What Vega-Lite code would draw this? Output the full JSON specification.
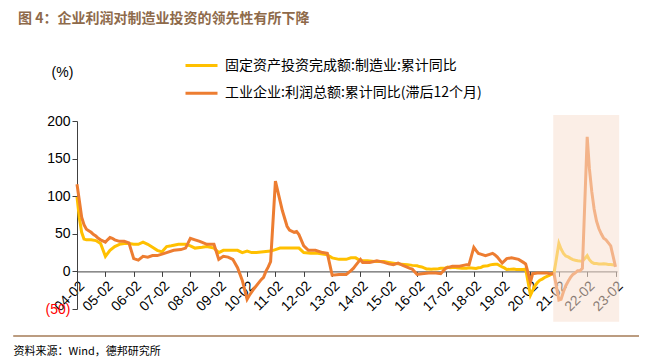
{
"$schema": "https://vega.github.io/schema/vega-lite/v6.json",
"width": 540, "height": 188,
"autosize": {"type": "none"},
"padding": {"left": 77, "top": 121, "right": 33, "bottom": 53},
"background": "white",
"config": {"view": {"stroke": null}, "font": "Liberation Sans", "axis": {"labelOverlap": false, "labelBound": false, "labelFlush": false}},
"title": {"text": "图 4：企业利润对制造业投资的领先性有所下降", "anchor": "start", "frame": "group", "font": "Noto Sans CJK SC", "fontSize": 14, "fontWeight": "bold", "color": "#8E6A4A", "dx": -59, "dy": -12, "offset": 10},
"layer": [
{
"data": {"format": {"parse": {"d": "date:'%Y-%m'"}}, "values": [
{"d":"2004-02","s":"A","v":99},{"d":"2004-03","s":"A","v":72},{"d":"2004-04","s":"A","v":52},{"d":"2004-05","s":"A","v":43},{"d":"2004-06","s":"A","v":42},{"d":"2004-08","s":"A","v":42},{"d":"2004-10","s":"A","v":41},{"d":"2004-12","s":"A","v":37},
{"d":"2005-02","s":"A","v":20},{"d":"2005-04","s":"A","v":28},{"d":"2005-06","s":"A","v":33},{"d":"2005-08","s":"A","v":36},{"d":"2005-10","s":"A","v":37},{"d":"2005-12","s":"A","v":37},
{"d":"2006-02","s":"A","v":36},{"d":"2006-04","s":"A","v":36},{"d":"2006-06","s":"A","v":39},{"d":"2006-08","s":"A","v":36},{"d":"2006-10","s":"A","v":32},{"d":"2006-12","s":"A","v":28},
{"d":"2007-02","s":"A","v":26},{"d":"2007-04","s":"A","v":33},{"d":"2007-06","s":"A","v":34},{"d":"2007-09","s":"A","v":36},{"d":"2007-12","s":"A","v":36},
{"d":"2008-02","s":"A","v":34},{"d":"2008-04","s":"A","v":31},{"d":"2008-07","s":"A","v":32},{"d":"2008-09","s":"A","v":33},{"d":"2008-12","s":"A","v":31},
{"d":"2009-02","s":"A","v":25},{"d":"2009-04","s":"A","v":28},{"d":"2009-07","s":"A","v":28},{"d":"2009-10","s":"A","v":28},{"d":"2009-12","s":"A","v":25},
{"d":"2010-02","s":"A","v":27},{"d":"2010-04","s":"A","v":25},{"d":"2010-06","s":"A","v":25},{"d":"2010-09","s":"A","v":26},{"d":"2010-12","s":"A","v":27},
{"d":"2011-02","s":"A","v":29},{"d":"2011-04","s":"A","v":31},{"d":"2011-07","s":"A","v":31},{"d":"2011-10","s":"A","v":31},{"d":"2011-12","s":"A","v":31},
{"d":"2012-02","s":"A","v":25},{"d":"2012-05","s":"A","v":24},{"d":"2012-08","s":"A","v":24},{"d":"2012-12","s":"A","v":22},
{"d":"2013-02","s":"A","v":18},{"d":"2013-05","s":"A","v":16},{"d":"2013-08","s":"A","v":16},{"d":"2013-10","s":"A","v":18},{"d":"2013-12","s":"A","v":18},
{"d":"2014-02","s":"A","v":14},{"d":"2014-05","s":"A","v":14},{"d":"2014-09","s":"A","v":13},{"d":"2014-12","s":"A","v":13},
{"d":"2015-02","s":"A","v":12},{"d":"2015-06","s":"A","v":10},{"d":"2015-10","s":"A","v":9},{"d":"2015-12","s":"A","v":8},
{"d":"2016-02","s":"A","v":7.5},{"d":"2016-03","s":"A","v":6.4},{"d":"2016-04","s":"A","v":6.0},{"d":"2016-05","s":"A","v":4.6},{"d":"2016-06","s":"A","v":3.3},{"d":"2016-07","s":"A","v":3.1},{"d":"2016-08","s":"A","v":2.8},{"d":"2016-09","s":"A","v":3.1},{"d":"2016-10","s":"A","v":3.1},{"d":"2016-11","s":"A","v":3.6},{"d":"2016-12","s":"A","v":4.2},
{"d":"2017-02","s":"A","v":4.3},{"d":"2017-03","s":"A","v":5.8},{"d":"2017-04","s":"A","v":5.0},{"d":"2017-05","s":"A","v":5.1},{"d":"2017-06","s":"A","v":5.5},{"d":"2017-07","s":"A","v":4.8},{"d":"2017-08","s":"A","v":4.5},{"d":"2017-09","s":"A","v":4.2},{"d":"2017-10","s":"A","v":4.1},{"d":"2017-11","s":"A","v":4.1},{"d":"2017-12","s":"A","v":4.8},
{"d":"2018-02","s":"A","v":4.3},{"d":"2018-03","s":"A","v":3.8},{"d":"2018-04","s":"A","v":4.8},{"d":"2018-05","s":"A","v":5.2},{"d":"2018-06","s":"A","v":6.8},{"d":"2018-07","s":"A","v":7.3},{"d":"2018-08","s":"A","v":7.5},{"d":"2018-09","s":"A","v":8.7},{"d":"2018-10","s":"A","v":9.1},{"d":"2018-11","s":"A","v":9.5},{"d":"2018-12","s":"A","v":9.5},
{"d":"2019-02","s":"A","v":5.9},{"d":"2019-03","s":"A","v":4.6},{"d":"2019-04","s":"A","v":2.5},{"d":"2019-05","s":"A","v":2.7},{"d":"2019-06","s":"A","v":3.0},{"d":"2019-07","s":"A","v":3.3},{"d":"2019-08","s":"A","v":2.6},{"d":"2019-09","s":"A","v":2.5},{"d":"2019-10","s":"A","v":2.6},{"d":"2019-11","s":"A","v":2.5},{"d":"2019-12","s":"A","v":3.1},
{"d":"2020-02","s":"A","v":-31.5},{"d":"2020-03","s":"A","v":-25.2},{"d":"2020-04","s":"A","v":-18.8},{"d":"2020-05","s":"A","v":-14.8},{"d":"2020-06","s":"A","v":-11.7},{"d":"2020-07","s":"A","v":-10.2},{"d":"2020-08","s":"A","v":-8.1},{"d":"2020-09","s":"A","v":-6.5},{"d":"2020-10","s":"A","v":-5.3},{"d":"2020-11","s":"A","v":-3.5},{"d":"2020-12","s":"A","v":-2.2},
{"d":"2021-02","s":"A","v":37.3},{"d":"2021-03","s":"A","v":29.8},{"d":"2021-04","s":"A","v":23.8},{"d":"2021-05","s":"A","v":20.4},{"d":"2021-06","s":"A","v":19.2},{"d":"2021-07","s":"A","v":17.3},{"d":"2021-08","s":"A","v":15.7},{"d":"2021-09","s":"A","v":14.8},{"d":"2021-10","s":"A","v":14.2},{"d":"2021-11","s":"A","v":13.7},{"d":"2021-12","s":"A","v":13.5},
{"d":"2022-02","s":"A","v":20.9},{"d":"2022-03","s":"A","v":15.6},{"d":"2022-04","s":"A","v":12.2},{"d":"2022-05","s":"A","v":10.6},{"d":"2022-06","s":"A","v":10.4},{"d":"2022-07","s":"A","v":9.9},{"d":"2022-08","s":"A","v":10.0},{"d":"2022-09","s":"A","v":10.1},{"d":"2022-10","s":"A","v":9.7},{"d":"2022-11","s":"A","v":9.3},{"d":"2022-12","s":"A","v":9.1},
{"d":"2023-02","s":"A","v":8.1},
{"d":"2004-02","s":"B","v":116},{"d":"2004-03","s":"B","v":95},{"d":"2004-04","s":"B","v":72},{"d":"2004-05","s":"B","v":62},{"d":"2004-06","s":"B","v":56},{"d":"2004-07","s":"B","v":54},{"d":"2004-08","s":"B","v":52},{"d":"2004-09","s":"B","v":49},{"d":"2004-10","s":"B","v":47},{"d":"2004-11","s":"B","v":44},{"d":"2004-12","s":"B","v":42},
{"d":"2005-02","s":"B","v":39},{"d":"2005-03","s":"B","v":42},{"d":"2005-04","s":"B","v":45},{"d":"2005-05","s":"B","v":44},{"d":"2005-06","s":"B","v":42},{"d":"2005-08","s":"B","v":40},{"d":"2005-10","s":"B","v":40},{"d":"2005-12","s":"B","v":38},
{"d":"2006-02","s":"B","v":17},{"d":"2006-04","s":"B","v":15},{"d":"2006-06","s":"B","v":20},{"d":"2006-08","s":"B","v":19},{"d":"2006-10","s":"B","v":21},{"d":"2006-12","s":"B","v":21},
{"d":"2007-02","s":"B","v":23},{"d":"2007-04","s":"B","v":25},{"d":"2007-07","s":"B","v":28},{"d":"2007-10","s":"B","v":29},{"d":"2007-12","s":"B","v":31},
{"d":"2008-02","s":"B","v":44},{"d":"2008-04","s":"B","v":42},{"d":"2008-06","s":"B","v":40},{"d":"2008-09","s":"B","v":36},{"d":"2008-12","s":"B","v":36},
{"d":"2009-02","s":"B","v":16},{"d":"2009-04","s":"B","v":20},{"d":"2009-06","s":"B","v":19},{"d":"2009-08","s":"B","v":16},{"d":"2009-10","s":"B","v":5},{"d":"2009-12","s":"B","v":-12},
{"d":"2010-02","s":"B","v":-37},{"d":"2010-03","s":"B","v":-32},{"d":"2010-05","s":"B","v":-23},{"d":"2010-08","s":"B","v":-11},{"d":"2010-09","s":"B","v":-8},{"d":"2010-10","s":"B","v":0},{"d":"2010-11","s":"B","v":6},{"d":"2010-12","s":"B","v":13},
{"d":"2011-02","s":"B","v":120},{"d":"2011-05","s":"B","v":81},{"d":"2011-07","s":"B","v":60},{"d":"2011-08","s":"B","v":55},{"d":"2011-10","s":"B","v":52},{"d":"2011-11","s":"B","v":53},{"d":"2011-12","s":"B","v":49},
{"d":"2012-02","s":"B","v":34},{"d":"2012-04","s":"B","v":28},{"d":"2012-07","s":"B","v":28},{"d":"2012-10","s":"B","v":25},{"d":"2012-12","s":"B","v":24},
{"d":"2013-02","s":"B","v":-5},{"d":"2013-05","s":"B","v":-4},{"d":"2013-08","s":"B","v":-4},{"d":"2013-10","s":"B","v":1},{"d":"2013-11","s":"B","v":4},{"d":"2013-12","s":"B","v":8},
{"d":"2014-02","s":"B","v":16},{"d":"2014-03","s":"B","v":12},{"d":"2014-06","s":"B","v":12},{"d":"2014-09","s":"B","v":14},{"d":"2014-12","s":"B","v":12},
{"d":"2015-02","s":"B","v":10},{"d":"2015-04","s":"B","v":9},{"d":"2015-06","s":"B","v":11},{"d":"2015-08","s":"B","v":8},{"d":"2015-11","s":"B","v":4},{"d":"2015-12","s":"B","v":3},
{"d":"2016-02","s":"B","v":-4},{"d":"2016-04","s":"B","v":-3},{"d":"2016-07","s":"B","v":-2},{"d":"2016-10","s":"B","v":-2},{"d":"2016-12","s":"B","v":-3},
{"d":"2017-02","s":"B","v":4},{"d":"2017-05","s":"B","v":7},{"d":"2017-08","s":"B","v":7},{"d":"2017-11","s":"B","v":9},{"d":"2017-12","s":"B","v":9},
{"d":"2018-02","s":"B","v":32},{"d":"2018-03","s":"B","v":28},{"d":"2018-04","s":"B","v":24},{"d":"2018-05","s":"B","v":23},{"d":"2018-07","s":"B","v":21},{"d":"2018-09","s":"B","v":23},{"d":"2018-10","s":"B","v":24},{"d":"2018-11","s":"B","v":22},{"d":"2018-12","s":"B","v":19},
{"d":"2019-02","s":"B","v":11},{"d":"2019-04","s":"B","v":17},{"d":"2019-06","s":"B","v":18},{"d":"2019-09","s":"B","v":16},{"d":"2019-11","s":"B","v":12},{"d":"2019-12","s":"B","v":10},
{"d":"2020-02","s":"B","v":-14},{"d":"2020-03","s":"B","v":-3},{"d":"2020-05","s":"B","v":-2},{"d":"2020-07","s":"B","v":-2},{"d":"2020-09","s":"B","v":-2},{"d":"2020-10","s":"B","v":-3},{"d":"2020-12","s":"B","v":-3},
{"d":"2021-02","s":"B","v":-38},{"d":"2021-03","s":"B","v":-37},{"d":"2021-04","s":"B","v":-27},{"d":"2021-05","s":"B","v":-19},{"d":"2021-06","s":"B","v":-13},{"d":"2021-07","s":"B","v":-8},{"d":"2021-08","s":"B","v":-4},{"d":"2021-09","s":"B","v":-2},{"d":"2021-10","s":"B","v":1},{"d":"2021-11","s":"B","v":1},{"d":"2021-12","s":"B","v":4},
{"d":"2022-02","s":"B","v":179},{"d":"2022-03","s":"B","v":137},{"d":"2022-04","s":"B","v":106},{"d":"2022-05","s":"B","v":83},{"d":"2022-06","s":"B","v":67},{"d":"2022-07","s":"B","v":57},{"d":"2022-08","s":"B","v":50},{"d":"2022-09","s":"B","v":44},{"d":"2022-10","s":"B","v":42},{"d":"2022-11","s":"B","v":38},{"d":"2022-12","s":"B","v":34},
{"d":"2023-02","s":"B","v":6}
]},
"mark": {"type": "line", "strokeWidth": 3, "clip": false},
"encoding": {
"x": {"field": "d", "type": "temporal",
"scale": {"domain": [{"year": 2004, "month": 2, "date": 1}, {"year": 2023, "month": 2, "date": 20}]},
"axis": {"values": [{"year":2004,"month":2,"date":1},{"year":2005,"month":2,"date":1},{"year":2006,"month":2,"date":1},{"year":2007,"month":2,"date":1},{"year":2008,"month":2,"date":1},{"year":2009,"month":2,"date":1},{"year":2010,"month":2,"date":1},{"year":2011,"month":2,"date":1},{"year":2012,"month":2,"date":1},{"year":2013,"month":2,"date":1},{"year":2014,"month":2,"date":1},{"year":2015,"month":2,"date":1},{"year":2016,"month":2,"date":1},{"year":2017,"month":2,"date":1},{"year":2018,"month":2,"date":1},{"year":2019,"month":2,"date":1},{"year":2020,"month":2,"date":1},{"year":2021,"month":2,"date":1},{"year":2022,"month":2,"date":1},{"year":2023,"month":2,"date":1}],
"tickCount": 100,
"format": "%y-%m", "labelAngle": -45, "labelFontSize": 14, "labelColor": "#000000", "labelFlush": false, "labelOverlap": false, "labelBound": false,
"tickSize": 5, "tickColor": "#404040", "domainColor": "#404040", "grid": false, "offset": -37.6,
"title": "资料来源：Wind，德邦研究所", "titleX": -64, "titleY": 80, "titleAlign": "left", "titleAnchor": "start", "titleBaseline": "middle", "titleFontSize": 11, "titleFontWeight": "normal", "titleFont": "Noto Sans CJK SC", "titleColor": "#000000"}},
"y": {"field": "v", "type": "quantitative",
"scale": {"domain": [-50, 200]},
"axis": {"values": [-50, 0, 50, 100, 150, 200], "tickCount": 100, "labelExpr": "datum.value < 0 ? '(' + abs(datum.value) + ')' : datum.label", "labelOverlap": false,
"labelColor": {"condition": {"test": "datum.value < 0", "value": "#FF0000"}, "value": "#000000"},
"labelFontSize": 14, "tickSize": 5, "tickColor": "#404040", "domainColor": "#404040", "grid": false,
"title": "(%)", "titleAngle": 0, "titleX": -15, "titleY": -49, "titleAlign": "center", "titleBaseline": "middle", "titleFontSize": 14, "titleFontWeight": "normal", "titleColor": "#000000"}},
"color": {"field": "s", "type": "nominal",
"scale": {"domain": ["A", "B"], "range": ["#FFC000", "#ED7D31"]},
"legend": {"orient": "none", "legendX": 107, "legendY": -73, "title": null, "direction": "vertical", "padding": 0,
"symbolType": "stroke", "symbolSize": 1024, "symbolStrokeWidth": 3, "labelFontSize": 14, "labelFont": "Noto Sans CJK SC", "labelColor": "#000000", "labelOffset": 6, "rowPadding": 2.7, "labelLimit": 400,
"labelExpr": "datum.value == 'A' ? '固定资产投资完成额:制造业:累计同比' : '工业企业:利润总额:累计同比(滞后12个月)'"}}
}
},
{
"data": {"format": {"parse": {"a": "date:'%Y-%m-%d'", "b": "date:'%Y-%m-%d'"}}, "values": [{"a": "2020-11-20", "b": "2023-03-20", "lo": -67, "hi": 208}]},
"mark": {"type": "rect", "fill": "#F8E0D1", "opacity": 0.55, "clip": false},
"encoding": {
"x": {"field": "a", "type": "temporal", "scale": {"domain": [{"year": 2004, "month": 2, "date": 1}, {"year": 2023, "month": 2, "date": 20}]}},
"x2": {"field": "b"},
"y": {"field": "lo", "type": "quantitative", "scale": {"domain": [-50, 200]}},
"y2": {"field": "hi"}}
},
{
"data": {"format": {"parse": {"a": "date:'%Y-%m-%d'", "b": "date:'%Y-%m-%d'"}}, "values": [{"a": "2001-11-01", "b": "2023-12-01", "y": -86}]},
"mark": {"type": "rule", "color": "#A47B56", "strokeWidth": 1.5, "clip": false},
"encoding": {
"x": {"field": "a", "type": "temporal", "scale": {"domain": [{"year": 2004, "month": 2, "date": 1}, {"year": 2023, "month": 2, "date": 20}]}},
"x2": {"field": "b"},
"y": {"field": "y", "type": "quantitative", "scale": {"domain": [-50, 200]}}}
}
]
}
